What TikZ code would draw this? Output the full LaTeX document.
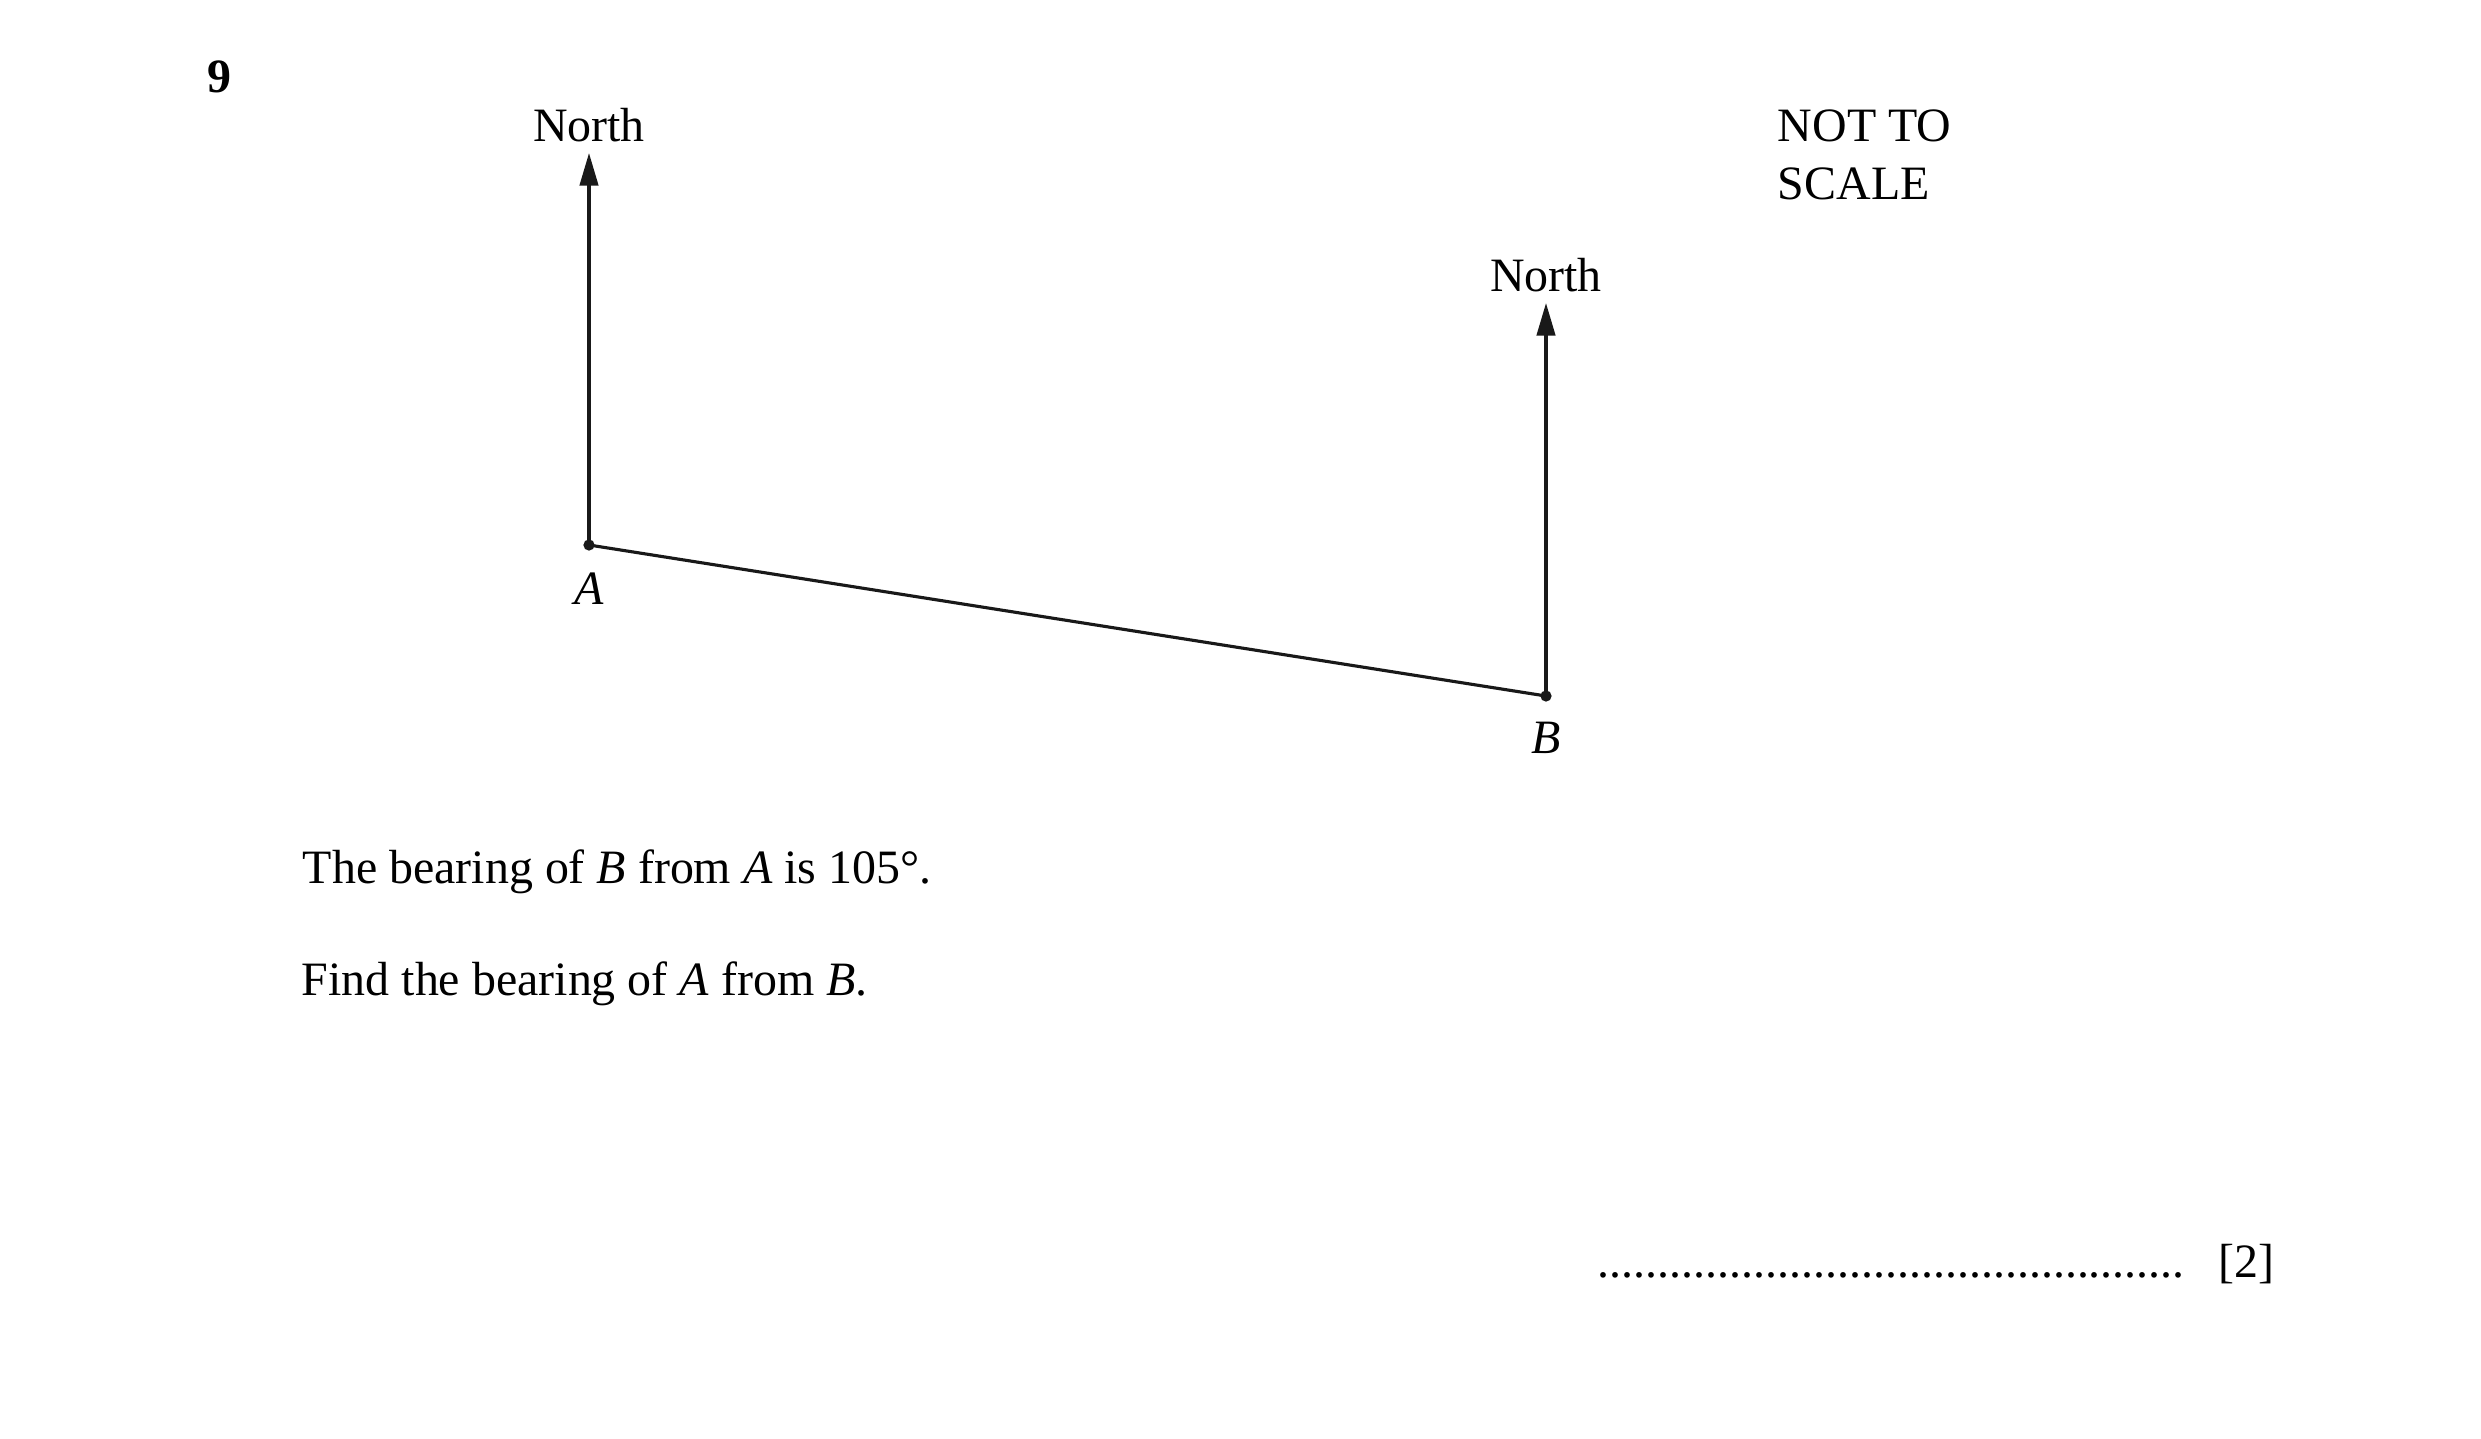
\documentclass[tikz,border=0pt]{standalone}
\usepackage{fontspec}
\setmainfont{Liberation Serif}
\usetikzlibrary{arrows.meta}
\begin{document}
\begin{tikzpicture}[x=0.24pt,y=-0.24pt,
  txt/.style={inner sep=0pt,font=\fontsize{11.5}{13.9}\selectfont},
  ptdot/.style={circle,fill=black!90,inner sep=0pt,minimum size=2.7pt},
  seg/.style={line width=0.75pt,draw=black!90},
  northarrow/.style={seg,-{Triangle[length=7.8pt,width=4.4pt]}}]
\useasboundingbox (0,0) rectangle (2481,1438);
% question number
\node[txt,anchor=base west,font=\fontsize{11.5}{13.9}\selectfont\bfseries] (qn) at (207,92) {9};
% points
\node[ptdot] (A) at (589,545) {};
\node[ptdot] (B) at (1546,696) {};
\coordinate (NA) at (589,153);
\coordinate (NB) at (1546,303);
% lines
\draw[seg] (A.center) -- (B.center);
\draw[northarrow] (A.center) -- (NA);
\draw[northarrow] (B.center) -- (NB);
% labels
\node[txt,anchor=base] (nlA) at (589,141) {North};
\node[txt,anchor=base] (nlB) at (1546,291) {North};
\node[txt,anchor=base] (lA) at (589,604) {\itshape A};
\node[txt,anchor=base] (lB) at (1546,753) {\itshape B};
\node[txt,anchor=base west] (nts1) at (1777,141) {NOT TO};
\node[txt,anchor=base west] (nts2) at (1777,199) {SCALE};
% question text
\node[txt,anchor=base west] (t1) at (302,883) {The bearing of \textit{B} from \textit{A} is 105°.};
\node[txt,anchor=base west] (t2) at (301,995) {Find the bearing of \textit{A} from \textit{B}.};
% answer line
\node[txt,anchor=base west] (dots) at (1597,1277) {.................................................};
\node[txt,anchor=base west] (mk) at (2218,1277) {[2]};
\end{tikzpicture}
\end{document}
